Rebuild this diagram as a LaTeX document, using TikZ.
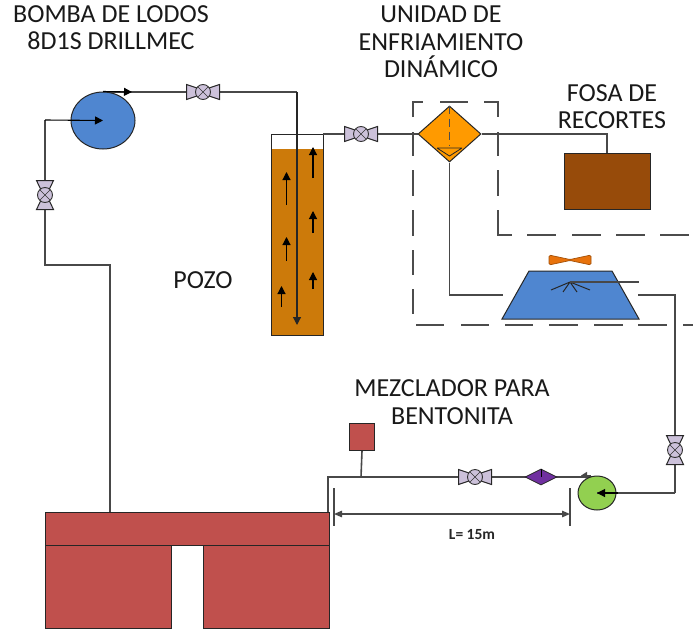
\documentclass[tikz,border=0pt]{standalone}
\usepackage{fontspec}
\setmainfont{Carlito}
\usetikzlibrary{arrows.meta,shapes.geometric}
\definecolor{redb}{HTML}{C0504D}
\definecolor{blueb}{HTML}{4F86D0}
\definecolor{wellc}{HTML}{CC7A0A}
\definecolor{diac}{HTML}{FF9A00}
\definecolor{greenp}{HTML}{92D050}
\definecolor{purp}{HTML}{7030A0}
\definecolor{valvec}{HTML}{CCC1DA}
\definecolor{fanc}{HTML}{E8720C}
\definecolor{brownb}{HTML}{974B0A}
\definecolor{linec}{HTML}{484848}
\tikzset{
  pipe/.style={draw=linec,line width=1.6pt},
  edgeline/.style={draw=black!85,line width=1pt},
  flow/.style={draw=black,line width=1.1pt,-{Triangle[length=8pt,width=8pt]}},
  dimline/.style={draw=linec,line width=1.3pt,{Triangle[length=8pt,width=6.5pt]}-{Triangle[length=8pt,width=6.5pt]}},
  dashv/.style={draw=black!70,line width=1.6pt},
  label/.style={font=\fontsize{26}{27.3}\selectfont,align=center,text=black!90,inner sep=0pt},
  block/.style={draw=black!85,line width=1pt,fill=redb,inner sep=0pt,anchor=north west},
  valvebody/.style={circle,draw=black!80,line width=.9pt,fill=valvec,minimum size=15pt,inner sep=0pt},
  valvewing/.style={draw=black!85,line width=1pt,fill=valvec},
}
\newcommand{\mkvalve}[5]{% name, position, rotation, half length, half width
  \begin{scope}[shift={#2},rotate=#3]
    \path[valvewing] (-#4,-#5) -- (-3,-3) -- (-3,3) -- (-#4,#5) -- cycle;
    \path[valvewing] (#4,-#5) -- (3,-3) -- (3,3) -- (#4,#5) -- cycle;
    \node[valvebody] (#1) at (0,0) {};
    \draw[black!80,line width=.6pt] (-5,-5) -- (5,5) (-5,5) -- (5,-5);
  \end{scope}}
\begin{document}
\begin{tikzpicture}[x=1pt,y=-1pt]
\useasboundingbox (0,0) rectangle (693,629);

% junction coordinates
\coordinate (a1) at (110,512);
\coordinate (a2) at (110,265);
\coordinate (a3) at (45,265);
\coordinate (a4) at (45,120);
\coordinate (b1) at (103,92);
\coordinate (b2) at (297,92);
\coordinate (b3) at (297,325);
\coordinate (c1) at (607,134);
\coordinate (d1) at (449.5,295);
\coordinate (d2) at (503,295);
\coordinate (e0) at (570,282);
\coordinate (e1) at (639,282);
\coordinate (f1) at (638,295);
\coordinate (f2) at (675,295);
\coordinate (f3) at (675,493);
\coordinate (g1) at (597,477);
\coordinate (g2) at (328,477);
\coordinate (g3) at (328,512);
\coordinate (g4) at (361,477);

% dashed enclosures
\draw[dashv] (413,117) -- (413,102) -- (423,102)
  (440,102) -- (468,102)
  (484,102) -- (498,102) -- (498,117)
  (498,132) -- (498,156)
  (498,170) -- (498,196)
  (498,210) -- (498,235) -- (512,235)
  (527,235) -- (556,235) (572,235) -- (601,235) (616,235) -- (645,235) (660,235) -- (689,235);
\draw[dashv] (413,132) -- (413,156) (413,170) -- (413,196) (413,210) -- (413,236) (413,250) -- (413,275) (413,289) -- (413,314);
\draw[dashv] (416,325) -- (444,325) (461,325) -- (489,325) (505,325) -- (533,325) (549,325) -- (578,325)
  (594,325) -- (623,325) (638,325) -- (667,325) (683,325) -- (693,325);

% well
\fill[wellc] (271,149) rectangle (323,335);
\node[draw=none,inner sep=0pt,minimum width=52pt,minimum height=201pt,anchor=north west] (well) at (271,134) {};
\draw[edgeline] (271,134) -- (271,335) -- (323,335) -- (323,134) -- cycle;

% pipes
\draw[pipe] (a1) -- (a2) -- (a3) -- (a4);
\draw[pipe] (323,134) -- (418,134);
\draw[pipe] (b1) -- (b2);

% equipment
\node[ellipse,draw=black!85,line width=1pt,fill=blueb,minimum width=64pt,minimum height=57pt,inner sep=0pt] (pump1) at (103,120.5) {};
\node[diamond,draw=black!85,line width=1pt,fill=diac,minimum width=63pt,minimum height=56pt,inner sep=0pt,aspect=1.1] (cool) at (449.5,134) {};
\node[draw=black!85,line width=1pt,fill=brownb,minimum width=86pt,minimum height=56pt,inner sep=0pt,anchor=north west] (fosa) at (564,153) {};
\draw[pipe] (cool.east) -- (c1) -- (c1 |- fosa.north);
\draw[pipe] (cool.south) -- (d1) -- (d2);

% cooling tower
\path[fill=blueb,draw=black!85,line width=1pt] (502,319) -- (529,271) -- (612,271) -- (639,319) -- cycle;
\node[inner sep=0pt,minimum width=110pt,minimum height=48pt] (tower) at (570.5,295) {};
\draw[fanc!70!black,line width=.7pt,fill=fanc,rounded corners=1.5pt] (549,255) -- (570,259.5) -- (591,255) -- (591,265) -- (570,260.5) -- (549,265) -- cycle;
\draw[black!85,line width=1pt] (e0) -- (551,290) (e0) -- (563,292) (e0) -- (577,292) (e0) -- (590,290);
\draw[pipe] (e0) -- (e1);
\draw[pipe] (f1) -- (f2) -- (f3);

% diamond details
\draw[draw=black!70,line width=1.3pt,dash pattern=on 8pt off 5pt] (cool.north) -- (449.5,145);
\draw[black!85,line width=.8pt] (437,148) -- (462,148) (437,148) -- (449.5,156) -- (462,148);

% lower line
\draw[pipe] (f3) -- (597,493);
\draw[pipe] (g1) -- (g2) -- (g3);
\node[block,minimum width=284pt,minimum height=33pt] (tank) at (45,512) {};
\node[block,minimum width=126pt,minimum height=83pt] (tankl) at (45,545) {};
\node[block,minimum width=126pt,minimum height=83pt] (tankr) at (203,545) {};
\node[block,minimum width=25pt,minimum height=27pt] (mixer) at (349,423) {};
\draw[pipe] (mixer.south) -- (g4);
\node[ellipse,draw=black!85,line width=1pt,fill=greenp,minimum width=38pt,minimum height=34pt,inner sep=0pt] (pump2) at (597,493) {};
\draw[pipe] (f3) -- (pump2.center);
\node[diamond,draw=black!85,line width=.8pt,fill=purp,minimum width=32pt,minimum height=16pt,inner sep=0pt,aspect=2] (filt) at (541,477) {};
\draw[black,line width=.7pt] (filt.north) -- (filt.center);
\draw[pipe,-{Triangle[length=6pt,width=7pt]}] (pump2.north) ++(-6,0) -- ++(-10,0);

% flow arrows
\draw[flow] (a4) -- (pump1.center);
\draw[flow] (pump1.north) -- (132,92);
\draw[draw=black!85,line width=1.2pt,-{Triangle[length=8pt,width=8pt]}] (b2) -- (b3);
\draw[flow] (286.5,205) -- (286.5,172);
\draw[flow] (313,178) -- (313,147);
\draw[flow] (313,233) -- (313,211);
\draw[flow] (286.5,261) -- (286.5,237);
\draw[flow] (313,289) -- (313,272);
\draw[flow] (281.5,307) -- (281.5,286);
\draw[flow] (618,493) -- (pump2.center);

% valves
\mkvalve{v1}{(203,92)}{0}{16.5}{7.5}
\mkvalve{v2}{(361,134)}{0}{16.5}{7.5}
\mkvalve{v3}{(45,195)}{90}{14.5}{8.5}
\mkvalve{v4}{(475,477)}{0}{16.5}{7.5}
\mkvalve{v5}{(675,450)}{90}{14.5}{8.5}

% dimension
\coordinate (t1a) at (334,488);
\coordinate (t1b) at (334,526);
\coordinate (t2a) at (570,488);
\coordinate (t2b) at (570,526);
\coordinate (m1) at (334,514);
\coordinate (m2) at (570,514);
\draw[linec,line width=1.3pt] (t1a) -- (t1b) (t2a) -- (t2b);
\draw[dimline] (m1) -- (m2);

% labels
\node[label] (l1) at (111,28) {BOMBA DE LODOS\\8D1S DRILLMEC};
\node[label] (l2) at (441,42) {UNIDAD DE\\ENFRIAMIENTO\\DINÁMICO};
\node[label] (l3) at (612,107) {FOSA DE\\RECORTES};
\node[label] (l4) at (203,280) {POZO};
\node[label] (l5) at (452,402) {MEZCLADOR PARA\\BENTONITA};
\node[inner sep=0pt,font=\fontsize{15.5}{18}\selectfont\bfseries,text=black!85] (l6) at (472,535) {L= 15m};
\end{tikzpicture}
\end{document}
